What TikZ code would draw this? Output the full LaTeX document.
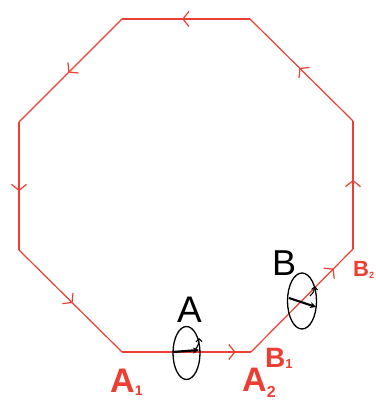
\documentclass[tikz,border=0pt]{standalone}
\usepackage{fontspec}
\setmainfont{Liberation Sans}
\usetikzlibrary{arrows.meta,decorations.markings,shapes.geometric}
\definecolor{pen}{RGB}{236,62,50}
\tikzset{
  edge/.style={draw=pen,line width=1.2pt},
  midarrow/.style={postaction={decorate},decoration={markings,
     mark=at position #1 with {\arrow[pen,line width=1.2pt]{Straight Barb[length=6pt,width=15pt]}}}},
  redlbl/.style={text=pen,inner sep=0pt,anchor=base west,font=\bfseries},
  blklbl/.style={text=black,inner sep=0pt,anchor=base west},
  dial/.style={draw=black,line width=1.3pt},
  spin/.style={draw=black,line width=2.2pt,-{Stealth[length=6pt,width=6pt]}},
  hook/.style={draw=black,line width=1.1pt,-{Straight Barb[length=3pt,width=6pt]}}
}
\begin{document}
\begin{tikzpicture}[x=1pt,y=-1pt]
\useasboundingbox (0,0) rectangle (375,403);
\coordinate (v1) at (122,19);
\coordinate (v2) at (250,19);
\coordinate (v3) at (353,121);
\coordinate (v4) at (353,249);
\coordinate (v5) at (251,352);
\coordinate (v6) at (122,352);
\coordinate (v7) at (19,250);
\coordinate (v8) at (19,122);
\draw[edge,midarrow=0.53] (v2) -- (v1);
\draw[edge,midarrow=0.52] (v1) -- (v8);
\draw[edge,midarrow=0.54] (v8) -- (v7);
\draw[edge,midarrow=0.52] (v7) -- (v6);
\draw[edge,midarrow=0.88] (v6) -- (v5);
\draw[edge,midarrow=0.81] (v5) -- (v4);
\draw[edge,midarrow=0.54] (v4) -- (v3);
\draw[edge,midarrow=0.52] (v3) -- (v2);
% dial A
\node[dial,ellipse,minimum width=27pt,minimum height=53pt,inner sep=0pt] (ea) at (186.5,353) {};
\coordinate (a0) at (173,352);
\coordinate (a1) at (199,350);
\draw[spin] (a0) -- (a1);
\coordinate (ah0) at (195,350);
\coordinate (ah1) at (199,338);
\draw[hook] (ah0) to[bend right=20] (ah1);
% dial B
\node[dial,ellipse,minimum width=29pt,minimum height=56pt,inner sep=0pt] (eb) at (302,301) {};
\coordinate (b0) at (289,298);
\coordinate (b1) at (316,307);
\draw[spin] (b0) -- (b1);
\coordinate (bh0) at (310,296);
\coordinate (bh1) at (315,286);
\draw[hook] (bh0) to[bend right=20] (bh1);
% labels
\node[redlbl] (la1) at (110,392) {\fontsize{34}{34}\selectfont A\raisebox{-0.1em}{\fontsize{14}{14}\selectfont 1}};
\node[redlbl] (la2) at (242,391) {\fontsize{34}{34}\selectfont A\raisebox{-0.2em}{\fontsize{16}{16}\selectfont 2}};
\node[redlbl] (lb1) at (265,367) {\fontsize{28}{28}\selectfont B\raisebox{-0.05em}{\fontsize{13}{13}\selectfont 1}};
\node[redlbl] (lb2) at (353,276) {\fontsize{22}{22}\selectfont B\raisebox{-0.1em}{\fontsize{9}{9}\selectfont 2}};
\node[blklbl] (la) at (177,322) {\fontsize{37}{37}\selectfont A};
\node[blklbl] (lb) at (272,275) {\fontsize{36}{36}\selectfont B};
\end{tikzpicture}
\end{document}
